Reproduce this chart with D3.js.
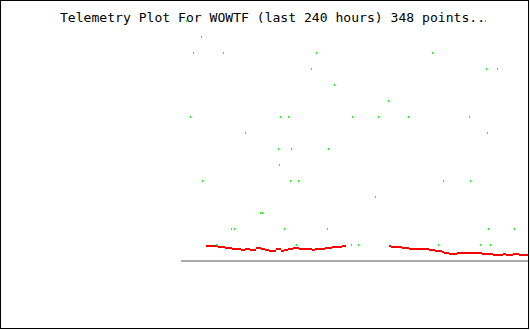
<!DOCTYPE html>
<html>
<head>
<meta charset="utf-8">
<script src="https://cdn.jsdelivr.net/npm/d3@7"></script>
<style>
  html, body { margin: 0; padding: 0; background: #fff; }
  svg { display: block; }
</style>
</head>
<body>
<div id="chart"></div>
<script>
// ---- data ----
const title = "Telemetry Plot For WOWTF (last 240 hours) 348 points..";
const hourDomain = [-240, 0];
const valueDomain = [0, 240];

// red series, segment 1 (hours ago, value); last entry marks the end of the run
const redHours1 = [-222.8, -217.9, -214.5, -209.7, -207.6, -204.8, -198.6, -195.9, -192.4, -188.3,
  -184.8, -182.1, -179.3, -174.5, -171.0, -169.0, -166.2, -162.8, -158.6, -153.8,
  -149.7, -147.6, -140.7, -135.9, -129.0, -126.2];
const redValues1 = [15, 15, 14, 13, 13, 12, 11, 12, 11, 13,
  12, 11, 10, 12, 10, 11, 12, 13, 12, 12,
  11, 12, 13, 14, 15, 15];
// red series, segment 2
const redHours2 = [-96.6, -95.2, -87.6, -82.8, -69.0, -64.8, -60.0, -58.6, -55.2, -49.7,
  -32.4, -24.8, -17.9, -15.9, -11.0, -6.9, 0];
const redValues2 = [15, 14, 13, 12, 11, 10, 9, 8, 7, 8,
  7, 6, 7, 6, 7, 6, 6];

// green series (hours ago, value)
const greenHours = [-236.6, -103.4, -30.3,
  -226.2,
  -231.7, -211.0, -146.9, -66.9,
  -150.3, -29.7, -22.1,
  -134.5,
  -97.2,
  -233.8, -171.7, -166.2, -122.1, -104.1, -83.4, -41.4,
  -195.9, -29.0,
  -173.1, -164.1, -138.6,
  -172.4,
  -225.5, -164.8, -159.3, -59.3, -40.7,
  -106.2,
  -185.5, -184.1,
  -205.5, -203.4, -169.0, -139.3, -28.3, -10.3,
  -215.9, -160.7, -122.8, -117.9, -62.8, -33.8, -26.9];
const greenValues = [240, 240, 240,
  224,
  208, 208, 208, 208,
  192, 192, 192,
  176,
  160,
  144, 144, 144, 144, 144, 144, 144,
  128, 128,
  112, 112, 112,
  96,
  80, 80, 80, 80, 80,
  64,
  48, 48,
  32, 32, 32, 32, 32, 32,
  16, 16, 16, 16, 16, 16, 16];

// ---- chart ----
const W = 530, H = 330;
const svg = d3.select("#chart").append("svg")
  .attr("width", W).attr("height", H);

svg.append("rect").attr("x", 0).attr("y", 0).attr("width", W).attr("height", H).attr("fill", "#fff");

const x = d3.scaleLinear().domain(hourDomain).range([181, 529]);
const y = d3.scaleLinear().domain(valueDomain).range([260, 20]);

// baseline
svg.append("rect")
  .attr("x", x(hourDomain[0])).attr("y", y(0))
  .attr("width", x(hourDomain[1]) - x(hourDomain[0])).attr("height", 2)
  .attr("fill", "#aaaaaa").attr("shape-rendering", "crispEdges");

// title
svg.append("text")
  .attr("x", 60).attr("y", 22)
  .attr("font-family", "'DejaVu Sans Mono', monospace")
  .attr("font-size", "13px")
  .attr("textLength", 425)
  .attr("lengthAdjust", "spacingAndGlyphs")
  .attr("fill", "#000")
  .text(title);

// red series as runs
function drawRuns(hours, values) {
  const runs = hours.slice(0, -1).map((h, i) => ({ h0: h, h1: hours[i + 1], v: values[i] }));
  svg.append("g").selectAll("rect").data(runs).join("rect")
    .attr("x", d => Math.round(x(d.h0)))
    .attr("y", d => Math.round(y(d.v)))
    .attr("width", d => Math.max(1, Math.round(x(d.h1)) - Math.round(x(d.h0))))
    .attr("height", 2)
    .attr("fill", "#ff0000")
    .attr("shape-rendering", "crispEdges");
}
drawRuns(redHours1, redValues1);
drawRuns(redHours2, redValues2);

// green points
const greenData = greenHours.map((h, i) => ({ h, v: greenValues[i] }));
svg.append("g").selectAll("rect").data(greenData).join("rect")
  .attr("x", d => Math.round(x(d.h)))
  .attr("y", d => Math.round(y(d.v)))
  .attr("width", 1).attr("height", 2)
  .attr("fill", "#00ff00")
  .attr("shape-rendering", "crispEdges");

// border
svg.append("rect")
  .attr("x", 0.5).attr("y", 0.5).attr("width", 528).attr("height", 328)
  .attr("fill", "none").attr("stroke", "#000").attr("stroke-width", 1);
</script>
</body>
</html>
